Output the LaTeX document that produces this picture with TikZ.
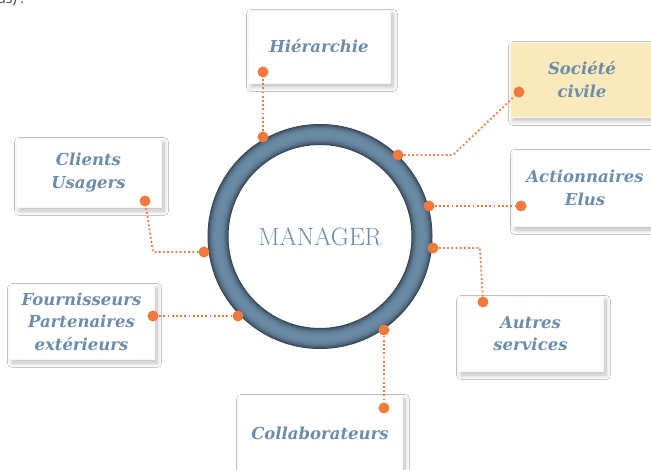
\documentclass[tikz,border=0pt]{standalone}
\usepackage{fontspec}
\newfontfamily\lblfont{DejaVu Serif}
\newfontfamily\topfont{Open Sans}
\usetikzlibrary{shadows.blur}
\definecolor{txtblue}{HTML}{6D8DAC}
\definecolor{ringmid}{HTML}{6A8AA5}
\definecolor{ringdark}{HTML}{34434F}
\definecolor{dotorange}{HTML}{F07A3E}
\definecolor{boxyellow}{HTML}{F9E9BB}
\definecolor{topgrey}{HTML}{4A3C46}
\begin{document}
\begin{tikzpicture}[x=1pt,y=-1pt,
  lbox/.style={draw=black!3, fill=white, inner sep=0pt,
    blur shadow={shadow xshift=3pt, shadow yshift=-4pt, shadow blur radius=4.5pt, shadow blur steps=10, shadow opacity=26}},
  ltext/.style={font=\lblfont\bfseries\itshape\fontsize{16.5}{22.5}\selectfont, text=txtblue, align=center},
  pdot/.style={circle, fill=dotorange, inner sep=0pt, minimum size=11pt},
  link/.style={draw=dotorange, line width=1.8pt, dash pattern=on 1.8pt off 2.4pt}
]
\useasboundingbox (0,0) rectangle (651,470);
\fill[white] (0,0) rectangle (651,470);

% cut-off text at top
\node[anchor=base west, inner sep=0pt, font=\topfont\fontsize{14}{16}\selectfont, text=topgrey] (toptxt) at (-2,4) {as) :};

% boxes
\node[lbox, ltext, minimum width=142pt, minimum height=73pt] (hbox) at (319,46.5) {Hiérarchie};
\node[lbox, ltext, fill=boxyellow, minimum width=144pt, minimum height=75pt] (sbox) at (582,79.5) {Société\\civile};
\node[lbox, ltext, minimum width=145pt, minimum height=69pt] (cbox) at (88.5,172.5) {Clients\\Usagers};
\node[lbox, ltext, minimum width=145pt, minimum height=75pt] (fbox) at (81.5,321.5) {Fournisseurs\\Partenaires\\extérieurs};
\node[lbox, ltext, minimum width=146pt, minimum height=76pt] (abox) at (585,188) {Actionnaires\\Elus};
\node[lbox, ltext, minimum width=145pt, minimum height=75pt] (obox) at (530.5,333.5) {Autres\\services};
\node[lbox, ltext, minimum width=164pt, minimum height=76pt] (kbox) at (320,433) {Collaborateurs};

% ring: stacked bands, widest (darkest) first
\coordinate (C) at (320,236.5);
\foreach \w in {21,20,...,1} {
  \pgfmathsetmacro\p{100*(1-(\w/21)^3)}
  \draw[line width=\w pt, draw=ringmid!\p!ringdark] (C) circle (102pt);
}
\node[font=\fontsize{25}{30}\selectfont, text=txtblue] (mgr) at (320,237) {MANAGER};

% bend points
\coordinate (sbend) at (453,155);
\coordinate (cbend) at (153,252);
\coordinate (obend) at (480,248);

% dots
\node[pdot] (h1) at (263,137) {};
\node[pdot] (h2) at (263,72) {};
\node[pdot] (s1) at (398,155) {};
\node[pdot] (s2) at (519,92) {};
\node[pdot] (c1) at (204,252) {};
\node[pdot] (c2) at (145,201) {};
\node[pdot] (f1) at (238,316) {};
\node[pdot] (f2) at (153,316) {};
\node[pdot] (a1) at (429,206) {};
\node[pdot] (a2) at (521,206) {};
\node[pdot] (o1) at (433,248) {};
\node[pdot] (o2) at (483,302) {};
\node[pdot] (k1) at (384,330) {};
\node[pdot] (k2) at (384,408) {};

% connectors
\draw[link] (h1) -- (h2);
\draw[link] (s1) -- (sbend) -- (s2);
\draw[link] (c1) -- (cbend) -- (c2);
\draw[link] (f1) -- (f2);
\draw[link] (a1) -- (a2);
\draw[link] (o1) -- (obend) -- (o2);
\draw[link] (k1) -- (k2);
\end{tikzpicture}
\end{document}
